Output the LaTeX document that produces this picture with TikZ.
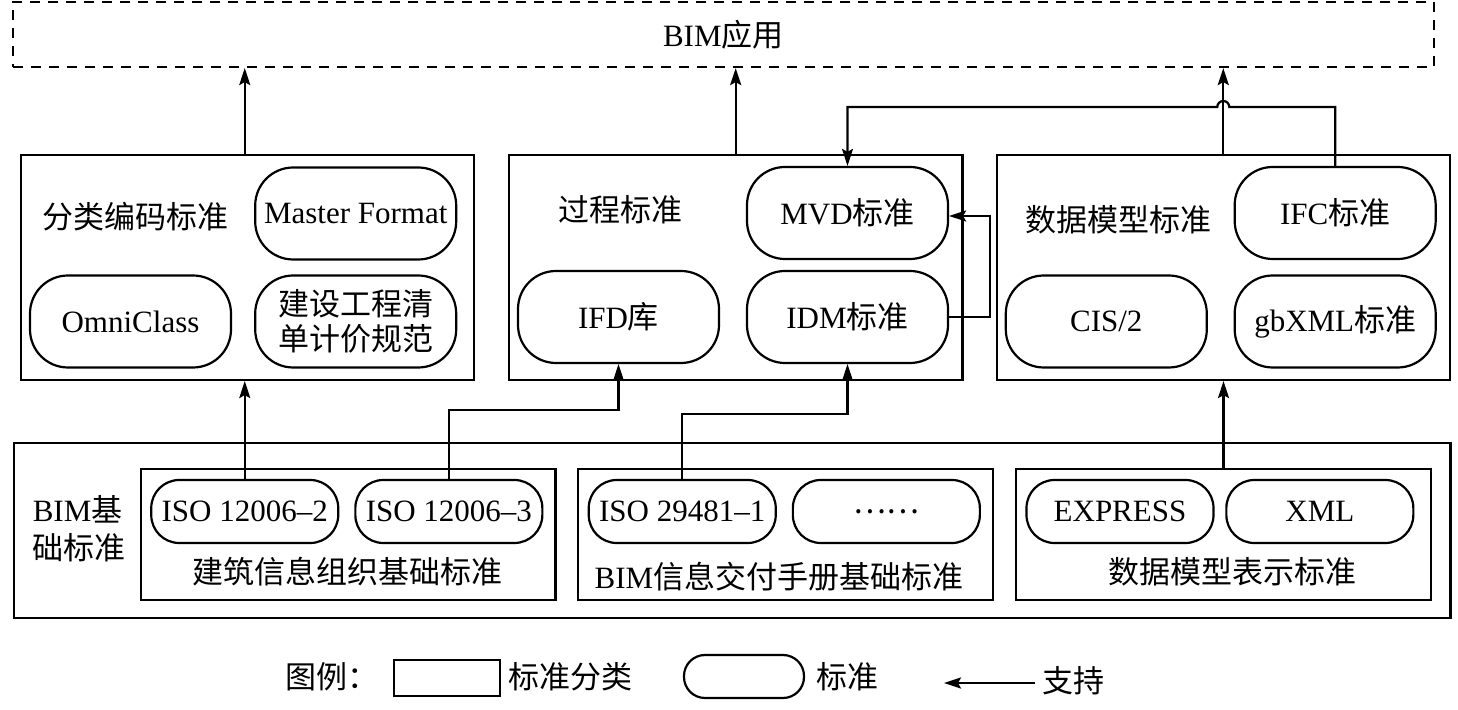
\documentclass[tikz,border=0pt]{standalone}
\usepackage{fontspec}
\setmainfont{Liberation Serif}
\newfontfamily\cjk{Noto Sans CJK SC}
\usetikzlibrary{arrows.meta}

\begin{document}
\begin{tikzpicture}[x=0.5pt, y=-0.5pt, line width=1.1pt,
		every node/.style={font=\fontsize{15.5}{17.5}\selectfont},
		zh/.style={font=\fontsize{15.5}{17.5}\selectfont\cjk},
		cat/.style={draw, inner sep=0pt},
		std/.style={draw, rounded corners=19pt, minimum width=100.5pt, minimum height=46pt, inner sep=0pt},
		iso/.style={draw, rounded corners=14pt, minimum width=93.5pt, minimum height=31.5pt, inner sep=0pt},
		sup/.style={-{Stealth[length=8.5pt,width=5.5pt,inset=1.5pt]}}]
			%%%%% START %%%%%
			\useasboundingbox (0,0) rectangle (1458,710);
			
			\node[cat, dash pattern=on 5pt off 4pt, minimum width=710.7pt, minimum height=32.5pt] (app) at (723.3,34.5) {BIM{\cjk 应用}};
			
			\node[cat, minimum width=226.5pt, minimum height=112.5pt] (cls) at (247.5,267.5) {};
			\node[cat, minimum width=226.7pt, minimum height=112.5pt] (proc) at (735.7,267.5) {};
			\node[cat, minimum width=226.3pt, minimum height=112.5pt] (data) at (1223.3,267.5) {};
			\node[zh] (clslab) at (135,217) {分类编码标准};
			\node[zh] (proclab) at (620,210) {过程标准};
			\node[zh] (datalab) at (1118,220) {数据模型标准};
			
			\node[std] (master) at (355.7,213.5) {Master Format};
			\node[std] (omni) at (130.5,321.5) {OmniClass};
			\node[std, zh, align=center] (bill) at (355.7,321.5) {建设工程清\\单计价规范};
			
			\node[std] (mvd) at (847.5,213) {MVD{\cjk 标准}};
			\node[std] (ifd) at (618.5,317) {IFD{\cjk 库}};
			\node[std] (idm) at (847.5,317) {IDM{\cjk 标准}};
			
			\node[std] (ifc) at (1335.2,213) {IFC{\cjk 标准}};
			\node[std] (cis) at (1106.3,321.5) {CIS/2};
			\node[std] (gbxml) at (1335.2,321.5) {gbXML{\cjk 标准}};
			
			\node[cat, minimum width=718.25pt, minimum height=87.5pt] (base) at (732.25,530.2) {};
			\node[align=left, anchor=west, font=\fontsize{15.5}{19}\selectfont] (baselab) at (25,529) {BIM{\cjk 基}\\{\cjk 础标准}};
			
			\node[cat, minimum width=207.25pt, minimum height=65.5pt] (subA) at (348.25,534.5) {};
			\node[cat, minimum width=207.5pt, minimum height=65.5pt] (subB) at (785.5,534.5) {};
			\node[cat, minimum width=207.5pt, minimum height=65.5pt] (subC) at (1223.5,534.5) {};
			\node[zh] (subAlab) at (347.5,572) {建筑信息组织基础标准};
			\node (subBlab) at (779,577) {BIM{\cjk 信息交付手册基础标准}};
			\node[zh] (subClab) at (1232.7,572) {数据模型表示标准};
			
			\node[iso] (iso2) at (244.75,511.5) {ISO 12006--2};
			\node[iso] (iso3) at (448.85,511.5) {ISO 12006--3};
			\node[iso] (iso29) at (682.25,511.5) {ISO 29481--1};
			\node[iso, zh] (etc) at (886.35,511.5) {……};
			\node[iso] (express) at (1120,511.5) {EXPRESS};
			\node[iso] (xml) at (1319.85,511.5) {XML};
			
			\draw[sup] (iso2 |- cls.north) -- (iso2 |- app.south);
			\draw[sup] (proc.north) -- (proc.north |- app.south);
			\draw[sup] (data.north) -- (data.north |- app.south);
			\draw[sup] (iso2.north) -- (iso2.north |- cls.south);
			\draw[sup] (iso3.north) -- ++(0,-69) -| (ifd.south);
			\draw[sup] (iso29.north) -- ++(0,-65) -| (idm.south);
			\draw[sup] (subC.north) -- (subC.north |- data.south);
			\draw[sup] (idm.east) -- ++(41,0) |- ([yshift=-1.5pt]mvd.east);
			
			\coordinate (hop) at (data.north |- 0,107);
			\draw[sup] (ifc.north) |- ([xshift=3pt]hop) arc[start angle=0, end angle=180, radius=3pt] -| (mvd.north);
			
			\node[zh] (leg) at (332,677) {图例：};
			\node[cat, minimum width=53pt, minimum height=18pt] (legcat) at (447,678) {};
			\node[zh, anchor=west] (legcatlab) at (501,677) {标准分类};
			\node[draw, rounded corners=10.5pt, minimum width=60pt, minimum height=21.5pt, inner sep=0pt] (legstd) at (744,676.5) {};
			\node[zh, anchor=west] (legstdlab) at (809,677) {标准};
			\node[zh, anchor=west] (legsuplab) at (1035,681) {支持};
			\coordinate (legtip) at (944,683);
			\draw[sup] (legsuplab.west |- legtip) -- (legtip);
			
			%%%%% END %%%%%
		\end{tikzpicture}
\end{document}
